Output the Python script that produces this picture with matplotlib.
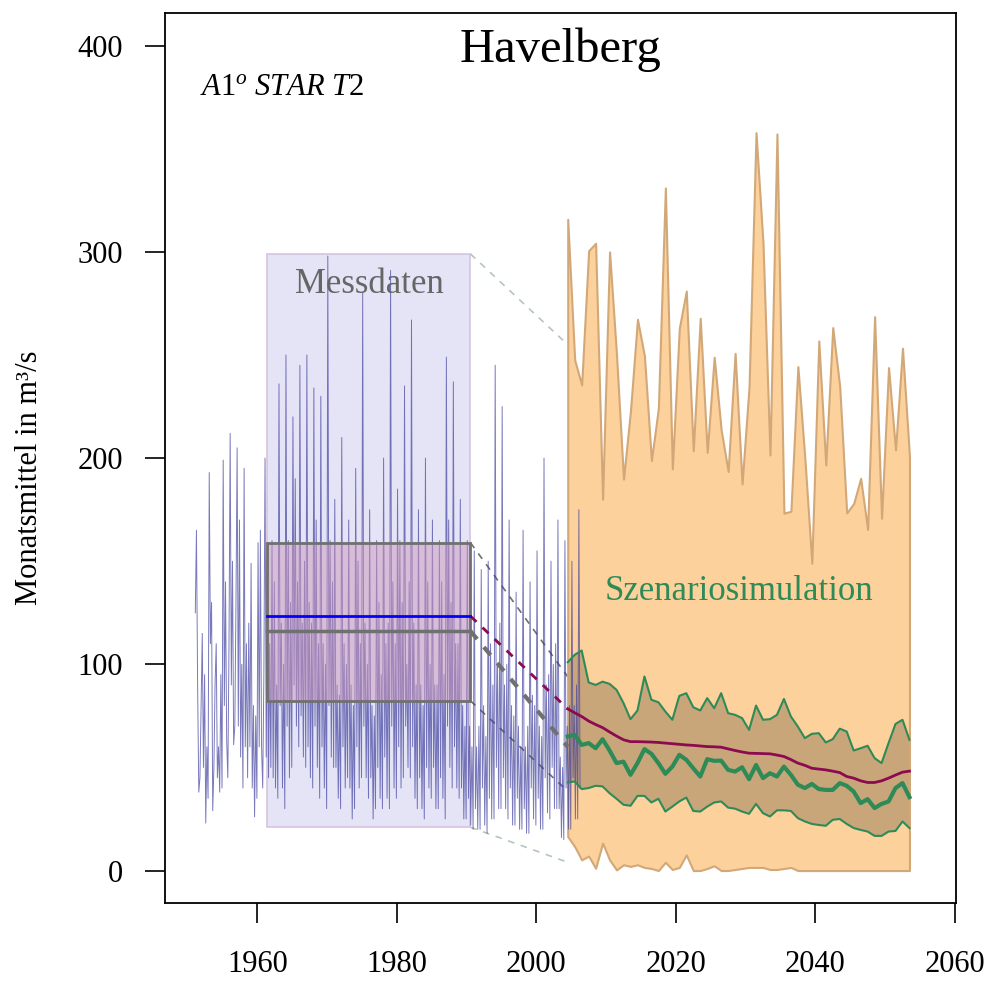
import numpy as np
import matplotlib
matplotlib.use("Agg")
import matplotlib.pyplot as plt
from matplotlib.patches import Rectangle

plt.rcParams['font.family'] = ['Liberation Serif', 'DejaVu Serif']
plt.rcParams['mathtext.fontset'] = 'custom'
plt.rcParams['mathtext.rm'] = 'Liberation Serif'
plt.rcParams['mathtext.it'] = 'Liberation Serif:italic'

# measured monthly means, six readings per year (1951 ... 2006)
obs_first_year = 1951
obs_rows = [
    [125, 165, 90, 38, 45, 80], [115, 50, 95, 23, 60, 35], [193, 110, 130, 29, 50, 90],
    [110, 45, 60, 38, 95, 40], [199, 80, 140, 63, 45, 110], [212, 90, 150, 61, 70, 130],
    [205, 70, 170, 55, 100, 40], [195, 60, 110, 45, 120, 60], [149, 40, 80, 26, 75, 35],
    [159, 60, 165, 60, 40, 95], [200, 55, 150, 45, 110, 50], [160, 45, 140, 40, 90, 35],
    [236, 80, 120, 40, 100, 30], [250, 70, 160, 45, 130, 50], [220, 90, 190, 70, 140, 60],
    [245, 75, 120, 55, 150, 50], [250, 60, 130, 45, 120, 40], [234, 70, 170, 50, 110, 35],
    [230, 60, 110, 40, 100, 30], [298, 80, 160, 55, 140, 50], [180, 50, 90, 35, 85, 30],
    [210, 60, 110, 40, 100, 45], [170, 40, 90, 25, 80, 30], [195, 60, 150, 40, 110, 45],
    [280, 70, 120, 45, 100, 35], [175, 45, 80, 25, 75, 30], [160, 50, 130, 35, 95, 30],
    [200, 55, 110, 35, 120, 30], [291, 70, 140, 40, 110, 35], [185, 60, 160, 40, 130, 45],
    [235, 70, 100, 50, 140, 45], [267, 60, 120, 35, 90, 30], [175, 45, 90, 30, 80, 25],
    [200, 50, 140, 40, 100, 35], [170, 50, 90, 30, 90, 30], [160, 45, 140, 35, 95, 25],
    [249, 70, 170, 50, 130, 40], [237, 60, 110, 40, 110, 35], [180, 40, 80, 25, 70, 25],
    [160, 35, 70, 22, 60, 20], [155, 30, 60, 20, 70, 20], [146, 40, 80, 22, 65, 18],
    [150, 35, 110, 25, 90, 25], [245, 50, 100, 30, 120, 30], [225, 45, 90, 30, 100, 25],
    [170, 40, 80, 22, 75, 22], [135, 35, 70, 20, 60, 20], [165, 30, 60, 18, 70, 18],
    [140, 40, 85, 25, 80, 22], [155, 35, 70, 20, 65, 20], [200, 45, 90, 28, 95, 25],
    [150, 50, 100, 30, 110, 30], [170, 30, 55, 16, 50, 15], [160, 40, 70, 20, 80, 20],
    [150, 45, 80, 25, 90, 25], [175, 40],
]

# reference period 1961-1990
ref_start, ref_end = 1961.4, 1990.55
ref_min, ref_max = 21.0, 299.0
ref_q_low, ref_q_high = 82.3, 159.0
ref_mean_obs = 123.4
ref_mean_sim = 116.1

# scenario simulation, yearly
sim_start = 2004.5
sim_max = [315.8, 247.6, 235.5, 300.6, 304.2, 180.0, 300.0, 250.0, 189.8, 223.0,
           267.3, 249.5, 198.8, 224.3, 331.0, 194.8, 263.0, 281.0, 203.6, 267.8,
           202.8, 248.9, 213.7, 193.5, 250.8, 187.5, 234.7, 357.8, 304.2, 201.5,
           357.2, 173.3, 174.2, 244.4, 200.0, 149.0, 256.8, 196.7, 263.3, 234.7,
           173.4, 178.0, 190.2, 165.4, 268.6, 170.8, 243.9, 204.0, 253.3, 200.7]
sim_min = [16.5, 11.6, 5.2, 7.0, 1.1, 13.3, 5.2, 0.3, 2.8, 2.0,
           2.8, 1.5, 1.0, 0.0, 4.0, 0.5, 1.5, 7.6, 0.0, 0.0,
           1.0, 2.3, 0.0, 0.0, 0.5, 1.0, 1.5, 1.5, 1.5, 0.5,
           0.5, 1.0, 1.5, 0.0, 0.0, 0.0, 0.0, 0.0, 0.0, 0.0,
           0.0, 0.0, 0.0, 0.0, 0.0, 0.0, 0.0, 0.0, 0.0, 0.0]
sim_q_high = [101.0, 104.6, 106.7, 91.2, 90.0, 91.6, 90.5, 87.6, 81.2, 73.4,
              77.6, 94.1, 82.8, 81.6, 77.1, 73.1, 84.7, 86.0, 79.2, 77.6,
              83.6, 78.7, 86.0, 76.3, 75.5, 73.9, 68.2, 80.0, 73.1, 73.4,
              75.5, 83.2, 74.7, 69.8, 64.2, 66.3, 66.6, 62.1, 63.7, 68.8,
              67.4, 58.2, 59.3, 60.5, 54.5, 52.1, 61.8, 71.1, 73.1, 63.4]
sim_mid = [65.0, 65.8, 60.9, 61.8, 59.3, 63.7, 58.2, 52.1, 52.8, 46.4,
           52.1, 58.9, 56.6, 52.1, 46.9, 50.4, 56.1, 53.7, 49.6, 45.6,
           54.0, 53.2, 53.3, 48.8, 48.0, 50.1, 44.3, 51.2, 44.8, 47.2,
           45.6, 50.4, 46.4, 41.6, 40.0, 42.0, 39.5, 39.1, 39.1, 42.4,
           41.1, 38.3, 32.7, 34.6, 30.3, 32.3, 33.5, 40.0, 42.4, 35.6]
sim_q_low = [42.7, 43.2, 39.5, 40.0, 41.1, 40.8, 37.5, 34.8, 31.9, 31.4,
             36.2, 36.2, 33.0, 34.8, 28.6, 31.0, 33.5, 35.4, 28.9, 28.6,
             31.0, 33.0, 33.5, 30.5, 30.0, 28.6, 27.5, 32.3, 27.8, 26.2,
             29.2, 29.2, 28.9, 25.4, 23.8, 22.6, 22.1, 21.7, 24.6, 25.0,
             22.6, 20.6, 19.7, 18.9, 16.8, 16.8, 18.9, 19.2, 23.8, 20.6]
sim_median = [78.4, 76.5, 74.7, 72.5, 70.8, 69.3, 67.2, 65.2, 63.4, 62.5,
              62.5, 62.4, 62.3, 62.1, 61.8, 61.5, 61.2, 60.9, 60.7, 60.4,
              60.1, 60.0, 59.8, 59.0, 58.2, 57.5, 56.9, 56.8, 56.7, 56.6,
              56.0, 55.3, 53.8, 52.1, 51.0, 49.6, 49.2, 48.8, 48.2, 47.5,
              45.6, 44.8, 43.5, 42.7, 42.7, 43.5, 44.8, 46.3, 47.7, 48.2]

# where the dashed links meet the scenario start
link_max, link_min = 255.0, 4.0
link_q_high, link_q_low = 94.0, 38.5
link_mean_obs, link_mean_sim = 78.4, 60.0

x_ticks = [1960, 1980, 2000, 2020, 2040, 2060]
y_ticks = [0, 100, 200, 300, 400]

ORANGE = '#fdd19b'
ORANGE_EDGE = '#d2a878'
BROWN = '#c9a67a'
GREEN = '#2e8b57'
PURPLE = '#8b0a50'
GRAY = '#707070'
LIGHT = '#b4c6bc'


def main():
    t_obs, q_obs = [], []
    for i, row in enumerate(obs_rows):
        for k, v in enumerate(row):
            t_obs.append(obs_first_year + i + (k + 0.6) / 6)
            q_obs.append(v)
    sim_years = sim_start + np.arange(len(sim_max))

    fig = plt.figure(figsize=(9.9, 9.81), dpi=100)
    ax = fig.add_axes([165.3 / 990, 1 - 902.7 / 981, 790.2 / 990, 889.4 / 981])
    ax.set_xlim(1946.8, 2060.1)
    ax.set_ylim(-15.6, 415.7)

    # measured data panel
    ax.add_patch(Rectangle((ref_start, ref_min), ref_end - ref_start, ref_max - ref_min,
                           facecolor='#e4e4f6', edgecolor='#d9c3df', lw=1.2, zorder=1))
    ax.plot([ref_end, sim_start], [ref_max, link_max], ls=(0, (4, 4)), color=LIGHT, lw=1.2, zorder=1.2)
    ax.plot([ref_end, sim_start], [ref_min, link_min], ls=(0, (4, 4)), color=LIGHT, lw=1.2, zorder=1.2)
    ax.plot([ref_end, sim_start], [ref_q_high, link_q_high], ls=(0, (4, 4)), color=GRAY, lw=1.2, zorder=1.2)
    ax.plot([ref_end, sim_start], [ref_q_low, link_q_low], ls=(0, (4, 4)), color=GRAY, lw=1.2, zorder=1.2)

    # scenario envelope
    ax.fill_between(sim_years, sim_min, sim_max, facecolor=ORANGE, edgecolor=ORANGE_EDGE, lw=1.5, zorder=1.5)
    ax.fill_between(sim_years, sim_q_low, sim_q_high, facecolor=BROWN, edgecolor='none', zorder=2)

    ax.plot(t_obs, q_obs, color='#40409e', lw=0.7, alpha=0.7, zorder=3)

    ax.add_patch(Rectangle((ref_start, ref_q_low), ref_end - ref_start, ref_q_high - ref_q_low,
                           facecolor='#cc98ba', alpha=0.5, edgecolor='none', zorder=3.5))
    ax.add_patch(Rectangle((ref_start, ref_q_low), ref_end - ref_start, ref_q_high - ref_q_low,
                           facecolor='none', edgecolor=GRAY, lw=2, zorder=4))
    ax.plot([ref_start, ref_end], [ref_mean_sim, ref_mean_sim], color=GRAY, lw=2.5, zorder=4.5)
    ax.plot([ref_start, ref_end], [ref_mean_obs, ref_mean_obs], color='#0000ff', lw=2, zorder=4.6)
    ax.plot([ref_end, sim_start], [ref_mean_obs, link_mean_obs], ls=(0, (3, 3)), color=PURPLE, lw=2, zorder=4.5)
    ax.plot([ref_end, sim_start], [ref_mean_sim, link_mean_sim], ls=(0, (2.5, 2.5)), color=GRAY, lw=3, zorder=4.5)

    ax.plot(sim_years, sim_q_high, color=GREEN, lw=1.5, zorder=4)
    ax.plot(sim_years, sim_q_low, color=GREEN, lw=1.5, zorder=4)
    ax.plot(sim_years, sim_mid, color=GREEN, lw=3, zorder=4.2)
    ax.plot(sim_years, sim_median, color=PURPLE, lw=2, zorder=4.4)

    ax.text(1976.0, 280, 'Messdaten', ha='center', va='baseline', fontsize=25, color='#666666', zorder=6)
    ax.text(2029.0, 131, 'Szenariosimulation', ha='center', va='baseline', fontsize=25, color=GREEN, zorder=6)
    ax.text(0.5, 0.945, 'Havelberg', transform=ax.transAxes, ha='center', va='baseline', fontsize=35)
    ax.text(0.044, 0.908, r'$\mathit{A1^{o}\ STAR\ T2}$', transform=ax.transAxes,
            ha='left', va='baseline', fontsize=22)
    fig.text(30 / 990, 1 - 478 / 981, 'Monatsmittel in m³/s', rotation=90,
             ha='center', va='center', fontsize=22)

    ax.set_xticks(x_ticks)
    ax.set_yticks(y_ticks)
    ax.tick_params(axis='both', direction='out', length=14.4, width=1.2, labelsize=22)
    ax.tick_params(axis='x', pad=20)
    ax.tick_params(axis='y', pad=16)
    for s in ax.spines.values():
        s.set_linewidth(1.3)

    fig.savefig('out.png', dpi=100)


if __name__ == "__main__":
    main()
